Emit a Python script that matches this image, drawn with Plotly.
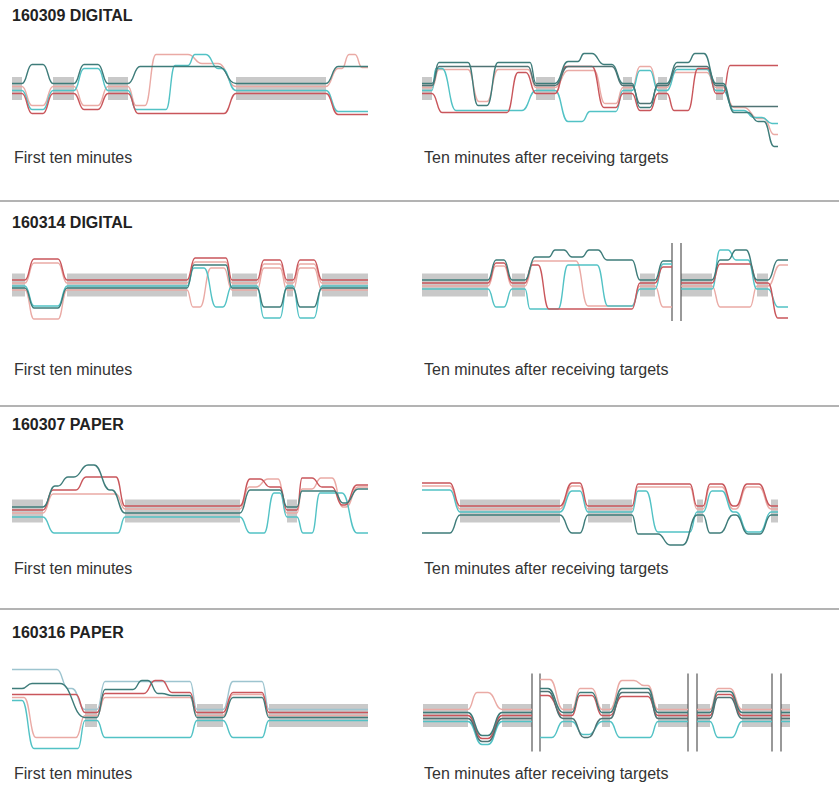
import plotly.graph_objects as go

W, H = 839, 786

# ---------------- data ----------------
# Each line: list of "holds" (t_start, t_end, lane offset); None = break in the line
TITLES = ["160309 DIGITAL", "160314 DIGITAL", "160307 PAPER", "160316 PAPER"]
CAPTION_LEFT = "First ten minutes"
CAPTION_RIGHT = "Ten minutes after receiving targets"

# Panel 1 : 160309 first ten minutes
P1_BANDS = [(0, 10), (41, 62), (96, 116), (224, 314)]
P1_DT = [(0, 10, -5), (20, 31, -24), (41, 62, -5), (72, 86, -24), (96, 116, -5), (128, 206, -22), (224, 314, -5), (326, 356, -22)]
P1_PK = [(0, 10, -2), (20, 31, 17), (41, 62, -2), (72, 86, 17), (96, 116, -2), (124, 133, 17), (144, 176, -34), (190, 206, -25), (224, 314, -2), (326, 330, -20), (337, 343, -34), (350, 356, -21)]
P1_CY = [(0, 10, 2), (20, 31, 21), (41, 62, 2), (72, 86, -20), (96, 116, 2), (124, 154, 21), (163, 176, -23), (183, 194, -34), (206, 210, -20), (224, 314, 2), (326, 356, 23)]
P1_RD = [(0, 10, 5), (20, 31, 25), (41, 62, 5), (72, 86, 21), (96, 116, 5), (126, 212, 25), (224, 314, 5), (326, 356, 26)]

# Panel 2 : 160309 after targets
P2_BANDS = [(0, 10), (114, 133), (201, 210), (236, 245), (294, 301)]
P2_DT = [(0, 10, -5), (17, 46, -26), (56, 65, 17), (76, 108, -26), (114, 133, -5), (146, 156, -27), (162, 170, -35), (182, 190, -24), (201, 210, -5), (218, 228, 19), (236, 245, -5), (255, 266, -26), (273, 282, -35), (294, 301, -5), (312, 326, 24), (336, 342, 33), (352, 356, 58)]
P2_DT2 = [(0, 10, -3), (17, 106, -22), (114, 133, -3), (146, 190, -22), (201, 210, -3), (218, 228, 15), (236, 245, -3), (255, 285, -22), (294, 301, -3), (310, 356, 18)]
P2_PK = [(0, 10, -1), (17, 46, -19), (57, 65, 13), (76, 106, -19), (114, 133, -1), (146, 172, -18), (183, 194, 15), (201, 210, -1), (218, 228, -22), (236, 245, -1), (252, 285, -16), (294, 301, -1), (312, 322, 19), (336, 342, 30), (352, 356, 46)]
P2_CY = [(0, 10, 2), (14, 20, -20), (34, 100, 22), (114, 133, 2), (146, 160, 33), (168, 194, 23), (201, 210, 2), (218, 228, -18), (236, 245, 2), (255, 285, -19), (294, 301, 2), (312, 322, 22), (332, 340, 29), (350, 356, 35)]
P2_RD = [(0, 10, 5), (20, 85, 24), (96, 104, -16), (114, 133, 5), (144, 170, -22), (182, 194, 19), (201, 210, 5), (218, 228, 22), (236, 245, 5), (252, 266, 22), (276, 286, -20), (294, 301, 5), (308, 356, -23)]

# Panel 3 : 160314 first ten minutes
P3_BANDS = [(0, 13), (55, 175), (220, 245), (275, 281), (310, 356)]
P3_RD = [(0, 13, -5), (22, 46, -26), (55, 175, -5), (183, 214, -27), (220, 245, -5), (252, 268, -25), (275, 281, -5), (288, 302, -25), (310, 356, -5)]
P3_PK = [(0, 13, -2), (22, 46, -22), (55, 175, -2), (183, 214, -23), (220, 245, -2), (252, 268, -21), (275, 281, -2), (288, 302, -21), (310, 356, -2)]
P3_CY = [(0, 13, 1), (22, 46, 21), (55, 175, 1), (182, 192, -17), (204, 211, 22), (220, 245, 1), (252, 268, 33), (275, 281, 1), (288, 302, 33), (310, 356, 1)]
P3_DT = [(0, 13, 3), (22, 46, 23), (55, 175, 3), (182, 214, -20), (220, 245, 3), (252, 268, 22), (275, 281, 3), (288, 302, 22), (310, 356, 3)]
P3_PK2 = [(0, 13, 5), (22, 46, 34), (55, 175, 5), (181, 188, 22), (199, 212, -17), (220, 245, 5), (252, 268, -17), (275, 281, 5), (288, 302, -17), (310, 356, 5)]

# Panel 4 : 160314 after targets
P4_BANDS = [(0, 66), (90, 103), (218, 233), (259, 290), (335, 346)]
P4_VLINES = [250, 259]
P4_DT = [(0, 66, -5), (74, 82, -25), (90, 103, -5), (113, 127, -28), (133, 142, -35), (150, 160, -28), (167, 176, -35), (185, 210, -25), (218, 233, -5), (241, 250, -24), None, (259, 290, -5), (298, 306, -25), (314, 324, -35), (335, 346, -5), (356, 366, -25)]
P4_RD = [(0, 66, -2), (74, 82, -22), (90, 103, -2), (110, 116, -20), (127, 210, 24), (218, 233, -2), (241, 250, -18), None, (259, 290, -2), (298, 328, -21), (335, 346, -2), (356, 366, 33)]
P4_PK = [(0, 66, 1), (74, 82, -19), (90, 103, 1), (112, 154, -24), (166, 210, 21), (218, 233, 1), (241, 250, 22), None, (259, 290, 1), (298, 328, 22), (335, 346, 1), (358, 366, -20)]
P4_CY = [(0, 66, 4), (74, 82, 22), (90, 103, 4), (108, 136, 24), (146, 175, -20), (186, 210, 21), (218, 233, 4), (241, 250, -21), None, (259, 290, 4), (298, 306, -35), (314, 326, -25), (335, 346, 4), (356, 366, 22)]

# Panel 5 : 160307 first ten minutes
P5_BANDS = [(0, 31), (113, 228), (275, 285)]
P5_DT = [(0, 31, -4), (43, 46, -25), (56, 62, -34), (76, 82, -46), (98, 100, -21), (113, 228, 2), (238, 268, -21), (275, 285, -4), (290, 322, -20), (331, 334, -8), (346, 356, -22)]
P5_RD = [(0, 31, -1), (41, 64, -21), (74, 104, -34), (113, 228, -5), (238, 248, -32), (258, 268, -24), (275, 285, -1), (290, 300, -33), (310, 320, -24), (330, 333, -6), (345, 356, -26)]
P5_PK = [(0, 31, 2), (41, 104, -17), (113, 228, -2), (237, 244, -24), (256, 266, -32), (275, 285, 2), (290, 300, -22), (309, 320, -33), (331, 334, -4), (346, 356, -24)]
P5_CY = [(0, 31, 6), (42, 106, 22), (113, 228, 6), (238, 252, 22), (262, 268, -18), (275, 285, 6), (291, 300, 22), (308, 330, -18), (345, 356, 22)]

# Panel 6 : 160307 after targets
P6_BANDS = [(38, 138), (166, 210), (275, 281), (349, 356)]
P6_RD = [(0, 28, -28), (38, 138, -5), (150, 158, -28), (166, 210, -5), (216, 268, -27), (275, 281, -5), (288, 300, -27), (311, 314, -5), (325, 337, -27), (349, 356, -5)]
P6_PK = [(0, 28, -25), (38, 138, -2), (150, 158, -25), (166, 210, -2), (216, 268, -24), (275, 281, -2), (288, 300, -24), (311, 314, -2), (325, 337, -24), (349, 356, -2)]
P6_CY = [(0, 28, -21), (38, 138, 1), (150, 158, -20), (166, 210, 1), (216, 224, -20), (236, 268, 21), (275, 281, 1), (290, 300, -20), (311, 314, 1), (326, 338, 21), (349, 356, 1)]
P6_DT = [(0, 28, 22), (38, 138, 4), (150, 158, 22), (166, 210, 4), (216, 236, 23), (248, 261, 34), (275, 281, 4), (288, 298, 22), (311, 314, 4), (326, 338, 23), (349, 356, 4)]

# Panel 7 : 160316 first ten minutes
P7_BANDS = [(73, 85), (185, 211), (257, 356)]
P7_LB = [(0, 45, -46), (56, 60, -27), (73, 85, -6), (93, 178, -34), (185, 211, -6), (221, 250, -34), (257, 356, -6)]
P7_DT = [(0, 10, -27), (20, 48, -32), (73, 85, 2), (93, 121, -26), (130, 136, -35), (146, 150, -22), (160, 178, -20), (185, 211, 2), (221, 250, -18), (257, 356, 2)]
P7_RD = [(0, 64, -21), (73, 85, -3), (93, 132, -22), (143, 150, -35), (160, 178, -23), (185, 211, -3), (221, 250, -23), (257, 356, -3)]
P7_PK = [(0, 12, -18), (24, 64, 22), (73, 85, 0), (93, 178, -18), (185, 211, 0), (221, 250, -21), (257, 356, 0)]
P7_CY = [(0, 10, -15), (22, 66, 33), (73, 85, 5), (93, 178, 22), (185, 211, 5), (221, 250, 22), (257, 356, 5)]

# Panel 8 : 160316 after targets
P8_BANDS = [(1, 46), (80, 110), (141, 150), (180, 188), (236, 266), (275, 288), (320, 350), (359, 368)]
P8_VLINES = [110, 118, 266, 275, 350, 359]
P8_PK = [(1, 46, -6), (55, 66, -23), (80, 110, -6), None, (118, 128, -36), (141, 150, -6), (158, 170, -27), (180, 188, -6), (200, 212, -35), (222, 226, -30), (236, 266, -6), None, (275, 288, -6), (296, 308, -27), (320, 350, -6), None, (359, 368, -6)]
P8_DT = [(1, 46, -3), (60, 66, 20), (80, 110, -3), None, (118, 126, -27), (141, 150, -3), (158, 170, -23), (180, 188, -3), (200, 226, -27), (236, 266, -3), None, (275, 288, -3), (296, 308, -24), (320, 350, -3), None, (359, 368, -3)]
P8_RD = [(1, 46, 0), (60, 66, 23), (80, 110, 0), None, (118, 126, -20), (141, 150, 0), (158, 170, -20), (180, 188, 0), (200, 226, -19), (236, 266, 0), None, (275, 288, 0), (296, 308, -21), (320, 350, 0), None, (359, 368, 0)]
P8_DT2 = [(1, 46, 3), (60, 66, 26), (80, 110, 3), None, (118, 126, -24), (141, 150, 3), (162, 166, 22), (180, 188, 3), (200, 226, -23), (236, 266, 3), None, (275, 288, 3), (296, 308, -18), (320, 350, 3), None, (359, 368, 3)]
P8_CY = [(1, 46, 6), (60, 66, 29), (80, 110, 6), None, (118, 130, 22), (141, 150, 6), (161, 167, 19), (180, 188, 6), (198, 228, 22), (236, 266, 6), None, (275, 288, 6), (296, 310, 22), (320, 350, 6), None, (359, 368, 6)]

# ---------------- styling / layout ----------------
COLORS = {'dt': '#3e7c7a', 'dt2': '#4f7374', 'cy': '#52c2c5', 'rd': '#c9565b',
          'pk': '#eaaaa5', 'pk2': '#eaaaa5', 'lb': '#9dc4cf'}
BAND_COLOR = '#c9c9c9'
BAND_HALF = 11.5
FONT = 'Liberation Sans, Arial, Helvetica, sans-serif'

LEFT_X, RIGHT_X, PANEL_W = 12, 422, 370
ROW_CENTER = [88.5, 285, 511, 715.5]
TITLE_Y = [16, 222, 424, 632]
CAPTION_Y = [158, 370, 568, 773]
SEP_Y = [201, 406, 609]
HALF_H = 62

panels = [
    dict(row=0, side=0, bands=P1_BANDS, vlines=[], lines=[('pk', P1_PK), ('cy', P1_CY), ('rd', P1_RD), ('dt', P1_DT)]),
    dict(row=0, side=1, bands=P2_BANDS, vlines=[], lines=[('pk', P2_PK), ('cy', P2_CY), ('rd', P2_RD), ('dt2', P2_DT2), ('dt', P2_DT)]),
    dict(row=1, side=0, bands=P3_BANDS, vlines=[], lines=[('pk2', P3_PK2), ('pk', P3_PK), ('cy', P3_CY), ('dt', P3_DT), ('rd', P3_RD)]),
    dict(row=1, side=1, bands=P4_BANDS, vlines=P4_VLINES, lines=[('pk', P4_PK), ('cy', P4_CY), ('rd', P4_RD), ('dt', P4_DT)]),
    dict(row=2, side=0, bands=P5_BANDS, vlines=[], lines=[('pk', P5_PK), ('cy', P5_CY), ('rd', P5_RD), ('dt', P5_DT)]),
    dict(row=2, side=1, bands=P6_BANDS, vlines=[], lines=[('pk', P6_PK), ('cy', P6_CY), ('rd', P6_RD), ('dt', P6_DT)]),
    dict(row=3, side=0, bands=P7_BANDS, vlines=[], lines=[('lb', P7_LB), ('pk', P7_PK), ('cy', P7_CY), ('rd', P7_RD), ('dt', P7_DT)]),
    dict(row=3, side=1, bands=P8_BANDS, vlines=P8_VLINES, lines=[('pk', P8_PK), ('cy', P8_CY), ('rd', P8_RD), ('dt2', P8_DT2), ('dt', P8_DT)]),
]


def line_path(holds):
    """SVG path in data units: flat holds joined by S-shaped cubic transitions."""
    parts, prev = [], None
    for h in holds:
        if h is None:
            prev = None
            continue
        a, b, y = h
        if prev is None:
            parts.append(f"M{a},{y}")
        else:
            pb, py = prev
            m = (pb + a) / 2
            parts.append(f"C{m},{py} {m},{y} {a},{y}")
        parts.append(f"L{b},{y}")
        prev = (b, y)
    return " ".join(parts)


fig = go.Figure()
layout_axes = {}
shapes = []
annotations = []

for i, p in enumerate(panels):
    k = i + 1
    xa = 'x' if k == 1 else f'x{k}'
    ya = 'y' if k == 1 else f'y{k}'
    x0 = LEFT_X if p['side'] == 0 else RIGHT_X
    cy = ROW_CENTER[p['row']]
    dom_x = [x0 / W, (x0 + PANEL_W) / W]
    dom_y = [1 - (cy + HALF_H) / H, 1 - (cy - HALF_H) / H]
    layout_axes['xaxis' if k == 1 else f'xaxis{k}'] = dict(domain=dom_x, range=[0, PANEL_W], visible=False,
                                                           fixedrange=True, anchor=ya)
    layout_axes['yaxis' if k == 1 else f'yaxis{k}'] = dict(domain=dom_y, range=[HALF_H, -HALF_H], visible=False,
                                                           fixedrange=True, anchor=xa)
    # grey convergence bands as filled traces
    bx, by = [], []
    for (b0, b1) in p['bands']:
        bx += [b0, b1, b1, b0, b0, None]
        by += [-BAND_HALF, -BAND_HALF, BAND_HALF, BAND_HALF, -BAND_HALF, None]
    fig.add_trace(go.Scatter(x=bx, y=by, mode='lines', fill='toself', fillcolor=BAND_COLOR,
                             line=dict(width=0, color=BAND_COLOR), xaxis=xa, yaxis=ya,
                             hoverinfo='skip', showlegend=False))
    for v in p['vlines']:
        shapes.append(dict(type='line', xref=xa, yref=ya, x0=v, x1=v, y0=-42, y1=36,
                           line=dict(color='#555555', width=1.2)))
    for key, holds in p['lines']:
        shapes.append(dict(type='path', xref=xa, yref=ya, path=line_path(holds),
                           line=dict(color=COLORS[key], width=1.4)))

for r in range(4):
    annotations.append(dict(text=f'<b>{TITLES[r]}</b>', x=10 / W, y=1 - TITLE_Y[r] / H, xref='paper', yref='paper',
                            xanchor='left', yanchor='middle', showarrow=False,
                            font=dict(family=FONT, size=16, color='#222222')))
    for sx, txt in [(LEFT_X, CAPTION_LEFT), (RIGHT_X, CAPTION_RIGHT)]:
        annotations.append(dict(text=txt, x=sx / W, y=1 - CAPTION_Y[r] / H, xref='paper', yref='paper',
                                xanchor='left', yanchor='middle', showarrow=False,
                                font=dict(family=FONT, size=16, color='#333333')))
for sy in SEP_Y:
    shapes.append(dict(type='line', xref='paper', yref='paper', x0=0, x1=1, y0=1 - sy / H, y1=1 - sy / H,
                       line=dict(color='#9a9a9a', width=1.3)))

fig.update_layout(width=W, height=H, margin=dict(l=0, r=0, t=0, b=0),
                  paper_bgcolor='white', plot_bgcolor='rgba(0,0,0,0)',
                  shapes=shapes, annotations=annotations, **layout_axes)

fig.write_html("out.html", config={'displayModeBar': False, 'staticPlot': True},
               post_script="document.body.style.margin='0';")
